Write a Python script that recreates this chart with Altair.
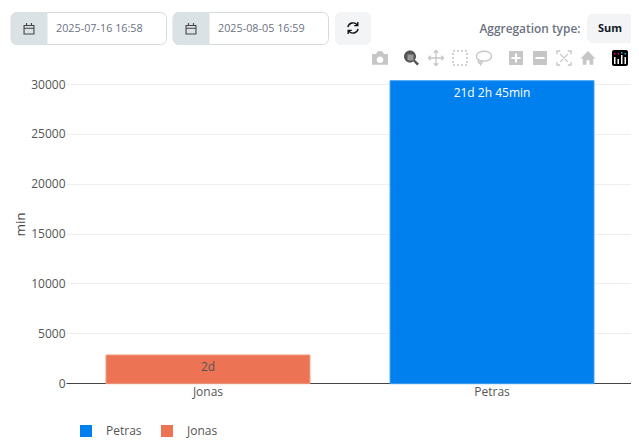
import altair as alt
import pandas as pd

people = ["Jonas", "Petras"]
minutes = [2880, 30405]
durations = ["2d", "21d 2h 45min"]
label_colors = ["#555555", "#ffffff"]
legend_order = ["Petras", "Jonas"]
bar_colors = ["#007FEF", "#EC7353"]
bar_strokes = ["#3FA0F4", "#F29A83"]

start_date = "2025-07-16 16:58"
end_date = "2025-08-05 16:59"
agg_label = "Aggregation type:"
agg_value = "Sum"

FONT = "Open Sans"
PAD_L, PAD_T = 58, 72
OX, OY = 66, 80
GRAY = "#C6C6C6"

df = pd.DataFrame({"who": people, "min": minutes, "dur": durations, "lc": label_colors})
blank = alt.Data(values=[{"a": 1}])


def box(x0, x1, y0, y1, **kw):
    return alt.Chart(blank).mark_rect(**kw).encode(
        x=alt.value(x0 - OX), x2=alt.value(x1 - OX),
        y=alt.value(y0 - OY), y2=alt.value(y1 - OY))


def label(x, y, s, **kw):
    kw.setdefault("font", FONT)
    return alt.Chart(blank).mark_text(text=s, baseline="middle", **kw).encode(
        x=alt.value(x - OX), y=alt.value(y - OY))


def icon(cx, cy, px, path, **kw):
    return alt.Chart(blank).mark_point(shape=path, size=px * px, opacity=1, **kw).encode(
        x=alt.value(cx - OX), y=alt.value(cy - OY))


def stroke_icon(cx, cy, px, path, color=GRAY, sw=1.3, **kw):
    return icon(cx, cy, px, path, filled=False, stroke=color, strokeWidth=sw, **kw)


def fill_icon(cx, cy, px, path, color=GRAY):
    return icon(cx, cy, px, path, filled=True, fill=color, strokeWidth=0)


CAL = "M-0.9,-0.55H0.9V1H-0.9Z M-0.9,-0.05H0.9 M-0.45,-1V-0.55 M0.45,-1V-0.55"
REFRESH = ("M-0.85,-0.15A0.87,0.87 0 0 1 0.7,-0.5 M0.8,-1V-0.4H0.2 "
           "M0.85,0.15A0.87,0.87 0 0 1 -0.7,0.5 M-0.8,1V0.4H-0.2")
CAMERA = ("M-1,-0.5H-0.5L-0.3,-0.85H0.3L0.5,-0.5H1V0.85H-1Z "
          "M0,-0.2A0.42,0.42 0 1 0 0,0.64A0.42,0.42 0 1 0 0,-0.2Z")
MAG = ("M-0.2,-1A0.8,0.8 0 1 1 -0.2,0.6A0.8,0.8 0 1 1 -0.2,-1Z "
       "M0.3,0.1L1,0.75L0.75,1L0.1,0.3Z")
PAN = ("M0,-1V1 M-1,0H1 M-0.3,-0.7L0,-1L0.3,-0.7 M-0.3,0.7L0,1L0.3,0.7 "
       "M-0.7,-0.3L-1,0L-0.7,0.3 M0.7,-0.3L1,0L0.7,0.3")
SELECT = "M-1,-1H1V1H-1Z"
LASSO = ("M-1,-0.2C-1,-0.75 -0.4,-0.9 0.1,-0.9C0.6,-0.9 1,-0.6 1,-0.25C1,0.25 0.4,0.45 -0.2,0.4"
         "C-0.7,0.35 -1,0.1 -1,-0.2Z M-0.7,0.25C-0.9,0.6 -0.6,0.8 -0.35,0.7C-0.1,0.6 -0.3,0.3 -0.5,0.4"
         "C-0.6,0.6 -0.5,0.9 -0.35,1")
SQ_PLUS = ("M-1,-1H1V1H-1Z M-0.15,-0.65V-0.15H-0.65V0.15H-0.15V0.65H0.15V0.15H0.65V-0.15H0.15V-0.65Z")
SQ_MINUS = "M-1,-1H1V1H-1Z M-0.65,-0.15V0.15H0.65V-0.15Z"
AUTOS = ("M-1,-0.55V-1H-0.55 M0.55,-1H1V-0.55 M1,0.55V1H0.55 M-0.55,1H-1V0.55 "
         "M-0.55,-0.55L0.55,0.55 M0.55,-0.55L-0.55,0.55")
HOME = "M0,-0.95L1,0.05H0.7V0.9H0.2V0.3H-0.2V0.9H-0.7V0.05H-1Z"

chrome = [
    box(11, 166.5, 12.5, 44.5, fill="#ffffff", stroke="#D5D9DE", strokeWidth=1, cornerRadius=6),
    box(11, 47.5, 12, 45, fill="#DAE2E5", cornerRadiusTopLeft=6, cornerRadiusBottomLeft=6),
    stroke_icon(29, 28.5, 11, CAL, color="#444444", sw=1.1),
    label(56, 29, start_date, fontSize=10.8, color="#6B7280", align="left"),
    box(173, 328.5, 12.5, 44.5, fill="#ffffff", stroke="#D5D9DE", strokeWidth=1, cornerRadius=6),
    box(173, 209.5, 12, 45, fill="#DAE2E5", cornerRadiusTopLeft=6, cornerRadiusBottomLeft=6),
    stroke_icon(191, 28.5, 11, CAL, color="#444444", sw=1.1),
    label(218, 29, end_date, fontSize=10.8, color="#6B7280", align="left"),
    box(335, 371, 12, 45, fill="#F3F4F6", cornerRadius=6),
    stroke_icon(353, 28, 12, REFRESH, color="#111111", sw=1.4),
    label(580.5, 29, agg_label, fontSize=11.9, fontWeight=600, color="#6B7280", align="right"),
    box(587, 631, 14, 43, fill="#F3F4F6", cornerRadiusTopLeft=6, cornerRadiusBottomLeft=6),
    label(610, 28.5, agg_value, fontSize=11, fontWeight=700, color="#111827", align="center"),
    fill_icon(380, 58, 16, CAMERA),
    fill_icon(411.5, 58, 15, MAG, color="#555555"),
    box(407.5, 413.5, 54.5, 60.5, fill="#999999"),
    stroke_icon(436, 58, 15, PAN),
    stroke_icon(460, 58, 14, SELECT, strokeDash=[2, 2], sw=1.6),
    stroke_icon(484, 58, 15, LASSO),
    fill_icon(516, 58, 14, SQ_PLUS),
    fill_icon(540, 58, 14, SQ_MINUS),
    stroke_icon(564, 58, 14, AUTOS),
    fill_icon(588, 58, 15, HOME),
    box(612, 628, 50, 66, fill="#000000", cornerRadius=2),
    box(614, 615.5, 57, 64, fill="#ffffff"),
    box(617.5, 619, 59, 64, fill="#ffffff"),
    box(621, 622.5, 55, 64, fill="#ffffff"),
    box(624.5, 626, 57, 64, fill="#ffffff"),
    box(614, 615.5, 53, 54.5, fill="#E6007E"),
    box(617.5, 619, 53, 54.5, fill="#E6007E"),
    box(621, 622.5, 52, 53.5, fill="#00B8D9"),
    box(624.5, 626, 53, 54.5, fill="#00B8D9"),
]

x_scale = alt.Scale(domain=people, paddingInner=0.282, paddingOuter=0.1356, align=0.5195)
y_scale = alt.Scale(domain=[0, 30405], nice=False)

bars = alt.Chart(df).mark_bar(strokeWidth=1, yOffset=0.7, y2Offset=0.7).encode(
    x=alt.X("who:N", scale=x_scale, sort=people, title=None, axis=alt.Axis(
        labelAngle=0, domainColor="#444444", domainWidth=1, ticks=False, labelPadding=3,
        labelFont=FONT, labelFontSize=12, labelColor="#555555", grid=False)),
    y=alt.Y("min:Q", scale=y_scale, title="min", axis=alt.Axis(
        values=[0, 5000, 10000, 15000, 20000, 25000, 30000], format="d",
        domain=False, ticks=False, gridColor="#EEEEEE", labelPadding=1,
        labelFont=FONT, labelFontSize=12, labelColor="#555555",
        titleFont=FONT, titleFontSize=13.5, titleFontWeight="normal", titleColor="#444444",
        titleX=-39, titleY=144)),
    color=alt.Color("who:N", scale=alt.Scale(domain=legend_order, range=bar_colors), legend=alt.Legend(
        orient="none", legendX=80 - OX, legendY=425 - OY, direction="horizontal", columns=2,
        title=None, symbolType="square", symbolSize=144, symbolStrokeWidth=0, symbolOpacity=1,
        labelFont=FONT, labelFontSize=12, labelColor="#555555", labelOffset=14, columnPadding=19, padding=0)),
    stroke=alt.Stroke("who:N", scale=alt.Scale(domain=legend_order, range=bar_strokes), legend=None),
)

texts = alt.Chart(df).mark_text(font=FONT, fontSize=12, baseline="middle", dy=13).encode(
    x=alt.X("who:N", scale=x_scale, sort=people),
    y=alt.Y("min:Q", scale=y_scale),
    text="dur:N",
    color=alt.Color("lc:N", scale=None),
)

chart = alt.layer(*chrome, bars, texts).resolve_scale(color="independent").properties(
    width=565, height=303,
    autosize=alt.AutoSizeParams(type="none"),
    padding={"left": PAD_L, "top": PAD_T, "right": 0, "bottom": 56},
    background="#ffffff",
).configure_view(stroke=None)

chart.save("out.html", embed_options={"renderer": "svg", "actions": False})
